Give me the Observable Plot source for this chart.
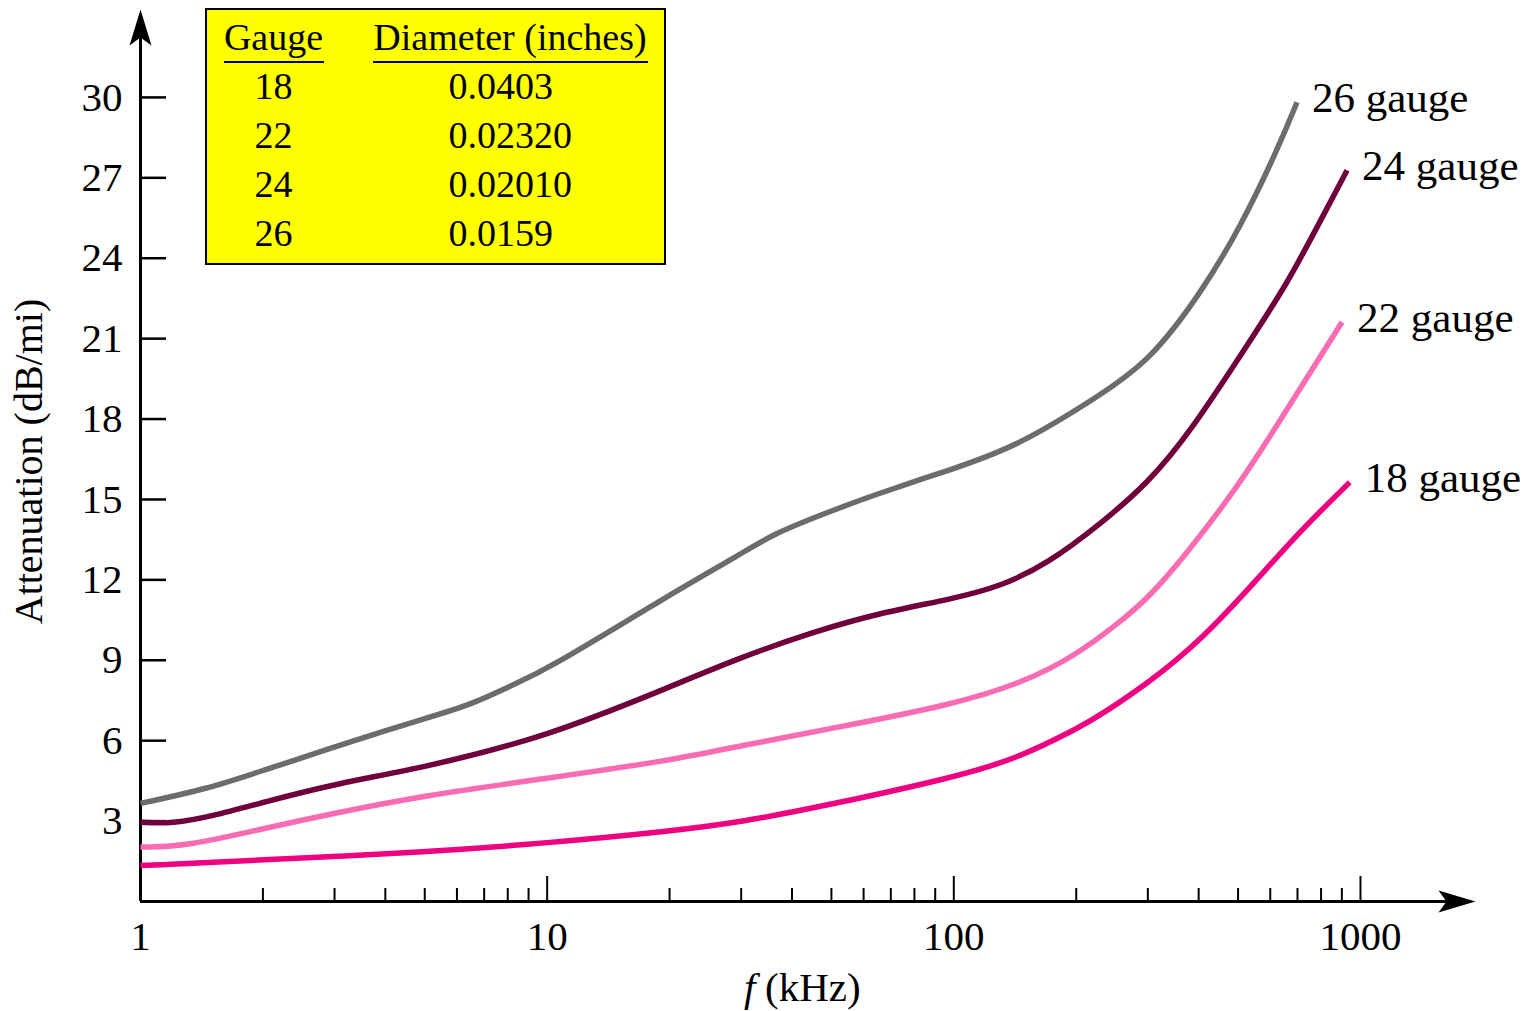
<!DOCTYPE html>
<html>
<head>
<meta charset="utf-8">
<script src="https://cdn.jsdelivr.net/npm/d3@7"></script>
<script src="https://cdn.jsdelivr.net/npm/@observablehq/plot@0.6"></script>
<style>
  html, body { margin: 0; padding: 0; background: #fff; }
  #wrap { position: relative; width: 1533px; height: 1011px; font-family: "Liberation Serif", serif; }
  #legend { position: absolute; left: 205px; top: 8px; width: 461px; height: 257px; box-sizing: border-box;
            border: 2.5px solid #000; background: #ffff00; font-size: 38px; color: #000; }
  #legend div { position: absolute; line-height: 38px; white-space: nowrap; }
  #legend .rule { background: #000; height: 2.5px; }
</style>
</head>
<body>
<div id="wrap">
  <div id="chart"></div>
  <div id="legend"></div>
</div>
<script>
// ---- data ----
const gaugeNames = ["26 gauge", "24 gauge", "22 gauge", "18 gauge"];

const freq26  = [1, 1.46, 2, 3, 4, 5, 6.6, 8, 10, 20, 30, 36, 48, 63, 100, 142, 229, 304, 404, 507, 624, 698];
const atten26 = [3.66, 4.2, 4.89, 5.76, 6.38, 6.82, 7.38, 8.0, 8.65, 11.45, 12.97, 13.72, 14.47, 15.15, 16.15, 16.95, 18.88, 20.19, 22.67, 25.16, 28.02, 29.82];

const freq24  = [1, 1.2, 1.5, 2, 3, 5, 10, 20, 30, 45, 65, 100, 130, 170, 230, 300, 384, 536, 660, 782, 927];
const atten24 = [2.96, 2.9, 3.18, 3.7, 4.39, 5.0, 6.15, 8.0, 9.12, 10.05, 10.75, 11.3, 11.75, 12.6, 14.1, 15.6, 17.57, 20.93, 23.05, 25.16, 27.28];

const freq22  = [1, 1.3, 2, 3, 5, 10, 20, 30, 50, 100, 150, 200, 250, 300, 370, 490, 620, 901];
const atten22 = [2.03, 2.06, 2.72, 3.3, 3.96, 4.6, 5.25, 5.82, 6.45, 7.35, 8.2, 9.2, 10.3, 11.3, 12.9, 15.3, 17.7, 21.62];

const freq18  = [1, 2, 5, 10, 20, 30, 50, 98, 142, 207, 229, 304, 404, 536, 712, 941];
const atten18 = [1.34, 1.55, 1.84, 2.18, 2.62, 2.96, 3.62, 4.6, 5.3, 6.55, 6.95, 8.2, 9.74, 11.73, 13.84, 15.64];

const yTickValues = [3, 6, 9, 12, 15, 18, 21, 24, 27, 30];
const xTickValues = [1, 10, 100, 1000];
const xMajorTicks = [10, 100, 1000];
const xMinorTicks = [2, 3, 4, 5, 6, 7, 8, 9, 20, 30, 40, 50, 60, 70, 80, 90, 200, 300, 400, 500, 600, 700, 800, 900];

const tableGauges = ["18", "22", "24", "26"];
const tableDiameters = ["0.0403", "0.02320", "0.02010", "0.0159"];

// ---- styles / layout ----
const seriesColors = ["#6c6c6c", "#70003c", "#f86cb4", "#ee0080"];
const FONT = "Liberation Serif";
const W = 1533, H = 1011, ML = 140, MR = 58, MT = 9, MB = 110;
const yTip = 33.28, xTip = 1918;
const ppu = (H - MT - MB) / yTip;                 // pixels per attenuation unit
const ppd = (W - ML - MR) / Math.log10(xTip);     // pixels per decade

// ---- build the long table ----
const seriesF = [freq26, freq24, freq22, freq18];
const seriesV = [atten26, atten24, atten22, atten18];
const rows = [];
gaugeNames.forEach((g, s) => seriesF[s].forEach((f, i) => rows.push({gauge: g, f, v: seriesV[s][i]})));
const ends = gaugeNames.map((g, s) => ({gauge: g, f: seriesF[s][seriesF[s].length - 1], v: seriesV[s][seriesV[s].length - 1]}));

const upArrow = {draw(ctx) { ctx.moveTo(0, 0); ctx.lineTo(11, 36); ctx.lineTo(0, 28); ctx.lineTo(-11, 36); ctx.closePath(); }};
const rightArrow = {draw(ctx) { ctx.moveTo(0, 0); ctx.lineTo(-37, -11); ctx.lineTo(-29, 0); ctx.lineTo(-37, 11); ctx.closePath(); }};

const chart = Plot.plot({
  width: W, height: H,
  marginLeft: ML, marginRight: MR, marginTop: MT, marginBottom: MB,
  style: {fontFamily: FONT, fontSize: "40px", background: "white", color: "black", overflow: "visible"},
  x: {type: "log", domain: [1, xTip], axis: null},
  y: {domain: [0, yTip], axis: null},
  color: {domain: gaugeNames, range: seriesColors},
  marks: [
    // axis lines
    Plot.ruleX([1], {x: d => d, y1: 0, y2: yTip - 20 / ppu, stroke: "black", strokeWidth: 3}),
    Plot.ruleY([0], {y: d => d, x1: 1, x2: xTip / Math.pow(10, 20 / ppd), stroke: "black", strokeWidth: 3}),
    Plot.dot([{x: 1, y: yTip}], {x: "x", y: "y", r: 1, symbol: upArrow, fill: "black", stroke: "none"}),
    Plot.dot([{x: xTip, y: 0}], {x: "x", y: "y", r: 1, symbol: rightArrow, fill: "black", stroke: "none"}),
    // inward ticks
    Plot.ruleX(xMinorTicks, {x: d => d, y1: 0, y2: 13 / ppu, stroke: "black", strokeWidth: 2}),
    Plot.ruleX(xMajorTicks, {x: d => d, y1: 0, y2: 25 / ppu, stroke: "black", strokeWidth: 2}),
    Plot.ruleY(yTickValues, {y: d => d, x1: 1, x2: Math.pow(10, 26 / ppd), stroke: "black", strokeWidth: 2.5}),
    // tick labels
    Plot.axisX({ticks: xTickValues, tickSize: 0, tickPadding: 19, tickFormat: d => String(d), label: null, fontSize: 41, fontFamily: FONT}),
    Plot.axisY({ticks: yTickValues, tickSize: 0, tickPadding: 18, tickFormat: d => String(d), label: null, fontSize: 41, fontFamily: FONT}),
    // axis titles
    Plot.text(["Attenuation (dB/mi)"], {frameAnchor: "left", rotate: -90, dx: -111, dy: 6, fontSize: 40, fontFamily: FONT, textAnchor: "middle", lineAnchor: "middle"}),
    Plot.text(["f"], {frameAnchor: "bottom", dx: -64, dy: 86, fontSize: 41, fontFamily: FONT, fontStyle: "italic", textAnchor: "start", lineAnchor: "middle"}),
    Plot.text(["(kHz)"], {frameAnchor: "bottom", dx: -43, dy: 86, fontSize: 41, fontFamily: FONT, textAnchor: "start", lineAnchor: "middle"}),
    // curves
    Plot.line(rows, {x: "f", y: "v", z: "gauge", stroke: "gauge", strokeWidth: 5.5, curve: "basis", strokeLinecap: "butt", strokeLinejoin: "round"}),
    // end labels
    Plot.text(ends, {x: "f", y: "v", text: "gauge", dx: 15, dy: -4, textAnchor: "start", lineAnchor: "middle", fontSize: 43, fontFamily: FONT, fill: "black"})
  ]
});
document.getElementById("chart").appendChild(chart);

// ---- gauge / diameter table (legend box) ----
const legend = document.getElementById("legend");
function addDiv(text, left, top, extra) {
  const d = document.createElement("div");
  d.textContent = text;
  d.style.left = left + "px";
  d.style.top = top + "px";
  if (extra) Object.assign(d.style, extra);
  legend.appendChild(d);
  return d;
}
addDiv("Gauge", 16.5, 7.7, {width: "100px", textAlign: "center"});
addDiv("Diameter (inches)", 165.5, 7.7, {width: "275px", textAlign: "center"});
const r1 = addDiv("", 16.5, 50.5, {width: "100px"}); r1.className = "rule";
const r2 = addDiv("", 165.5, 50.5, {width: "275px"}); r2.className = "rule";
tableGauges.forEach((g, i) => {
  addDiv(g, 16.5, 56.7 + i * 49, {width: "100px", textAlign: "center"});
  addDiv(tableDiameters[i], 241.5, 56.7 + i * 49);
});
</script>
</body>
</html>
